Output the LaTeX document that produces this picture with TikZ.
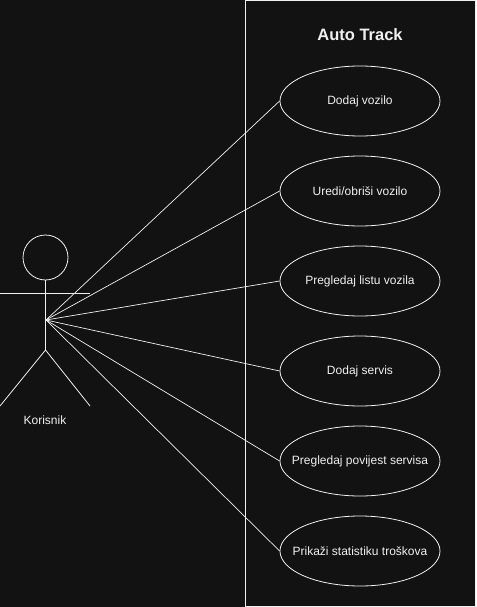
\documentclass[tikz,border=0pt]{standalone}
\usepackage{fontspec}
\setmainfont{Liberation Sans}
\usetikzlibrary{shapes.geometric}
\definecolor{bg}{HTML}{121212}
\definecolor{fg}{HTML}{F0F0F0}
\newcommand{\uctext}[1]{\makebox[0pt][c]{#1}}
\begin{document}
\begin{tikzpicture}[x=1pt,y=-1pt,
  usecase/.style={ellipse,draw=fg,line width=0.8pt,minimum width=160pt,minimum height=70pt,inner sep=0pt,text=fg,font=\fontsize{12}{14}\selectfont},
  conn/.style={draw=fg,line width=0.7pt},
  stick/.style={draw=fg,line width=0.8pt}]
\fill[bg] (0,0) rectangle (476,607);
\useasboundingbox (0,0) rectangle (476,607);
\draw[fg,line width=1pt] (245,1) rectangle (475,606);
\node[text=fg,font=\fontsize{16.5}{18}\selectfont\bfseries] (title) at (360,35) {Auto Track};
\node[usecase] (u1) at (360,101) {\uctext{Dodaj vozilo}};
\node[usecase] (u2) at (360,191) {\uctext{Uredi/obriši vozilo}};
\node[usecase] (u3) at (360,281) {\uctext{Pregledaj listu vozila}};
\node[usecase] (u4) at (360,371) {\uctext{Dodaj servis}};
\node[usecase] (u5) at (360,461) {\uctext{Pregledaj povijest servisa}};
\node[usecase] (u6) at (360,551) {\uctext{Prikaži statistiku troškova}};
% actor
\draw[stick] (45.5,257.5) circle (22.5);
\draw[stick] (45.5,280) -- (45.5,350);
\draw[stick] (0,293) -- (90,293);
\draw[stick] (0,406) -- (45.5,350) -- (90,406);
\coordinate (hub) at (46,320);
\node[text=fg,font=\fontsize{12}{14}\selectfont] (actor) at (45,420) {Korisnik};
\foreach \u in {u1,u2,u3,u4,u5,u6}{\draw[conn] (hub) -- (\u.west);}
\end{tikzpicture}
\end{document}
